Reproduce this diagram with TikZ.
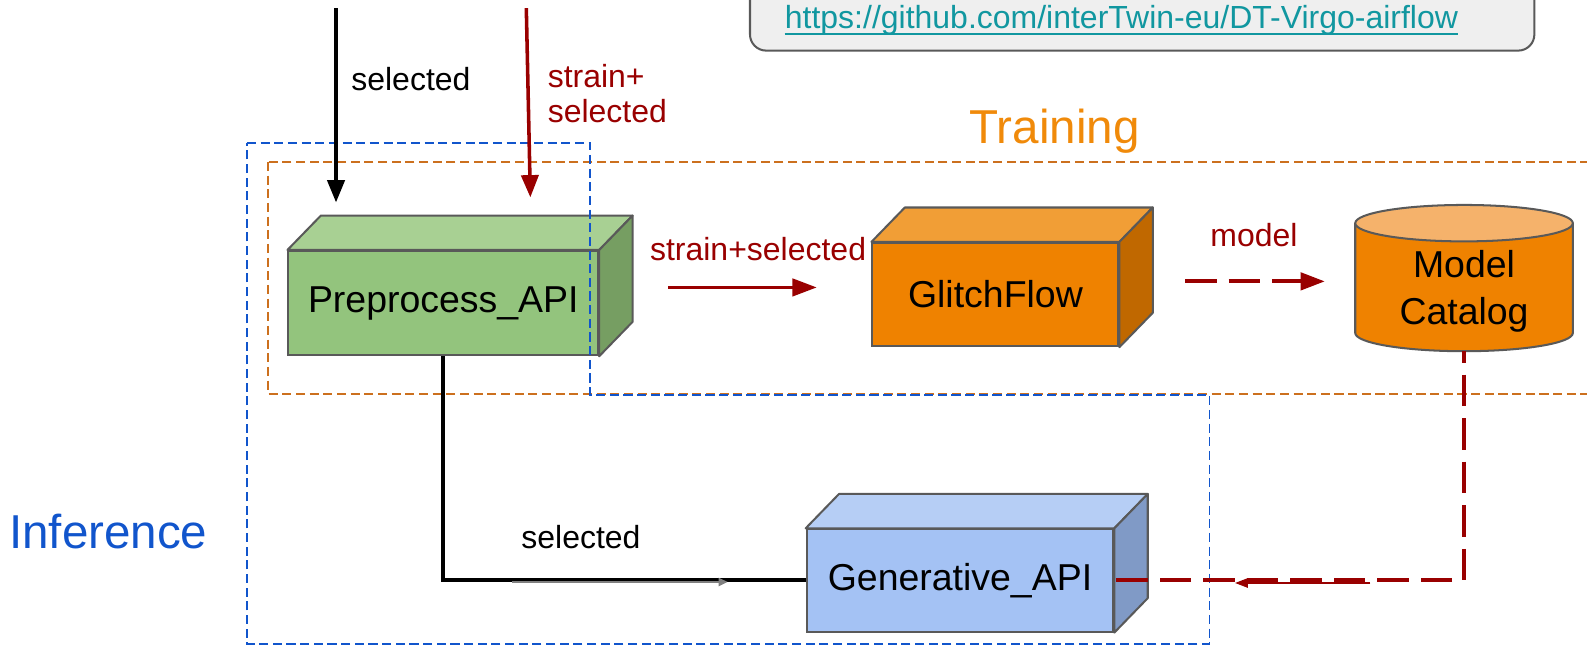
\documentclass[tikz,border=0pt]{standalone}
\usepackage{fontspec}
\setmainfont{Liberation Sans}
\usetikzlibrary{arrows.meta,calc}

\definecolor{dred}{RGB}{153,0,0}
\definecolor{edgegray}{RGB}{89,89,89}
\definecolor{linkteal}{RGB}{17,151,160}
\definecolor{linkfill}{RGB}{239,239,239}
\definecolor{trainorange}{RGB}{240,138,10}
\definecolor{trainedge}{RGB}{204,112,30}
\definecolor{inferblue}{RGB}{17,85,204}
\definecolor{greenfront}{RGB}{147,196,125}
\definecolor{greentop}{RGB}{168,208,147}
\definecolor{greenside}{RGB}{118,158,98}
\definecolor{orangefront}{RGB}{239,130,0}
\definecolor{orangetop}{RGB}{241,158,54}
\definecolor{orangeside}{RGB}{192,104,0}
\definecolor{cyltop}{RGB}{245,178,107}
\definecolor{bluefront}{RGB}{164,194,244}
\definecolor{bluetop}{RGB}{182,206,245}
\definecolor{blueside}{RGB}{128,154,198}

\tikzset{
  lbl/.style={font=\fontsize{31.6}{35}\selectfont, inner sep=0pt},
  boxlbl/.style={font=\fontsize{37}{44}\selectfont},
  biglbl/.style={font=\fontsize{47}{54}\selectfont, inner sep=0pt},
  cube/.style={draw=edgegray, line width=2pt, inner sep=0pt},
  faceline/.style={draw=edgegray, line width=2pt, line join=round},
  region/.style={line width=1.8pt, dash pattern=on 9pt off 4.5pt},
  flow/.style={line width=3.5pt},
  redhead/.style={-{Triangle[length=24pt,width=17pt]}},
}

% top and side faces of a box whose front face is the node #1
\newcommand\cubefaces[3]{%
  \path[faceline, fill=#2] (#1.north west) -- ++(33,-34)
    -- ($(#1.north east)+(33,-34)$) -- (#1.north east) -- cycle;
  \path[faceline, fill=#3] (#1.north east) -- ++(33,-34)
    -- ($(#1.south east)+(33,-34)$) -- (#1.south east) -- cycle;
}

\begin{document}
\begin{tikzpicture}[x=1pt,y=-1pt]
\useasboundingbox (0,0) rectangle (1568,640);
\clip (0,0) rectangle (1568,640);

% repository link
\draw[draw=edgegray, fill=linkfill, line width=2pt, rounded corners=16pt]
  (741,-30) rectangle (1516,50);
\node[lbl, text=linkteal] (link) at (1108,20)
  {https://github.com/interTwin-eu/DT-Virgo-airflow};
\draw[linkteal, line width=2pt]
  ([yshift=-5.5pt]link.base west) -- ([yshift=-5.5pt]link.base east);

% processing stages
\node[cube, fill=greenfront, minimum width=306pt, minimum height=103pt, boxlbl]
  (pre) at (438,299.5) {Preprocess\_API};
\cubefaces{pre}{greentop}{greenside}

\node[cube, fill=orangefront, minimum width=243pt, minimum height=102pt, boxlbl]
  (glitch) at (983.5,291) {GlitchFlow};
\cubefaces{glitch}{orangetop}{orangeside}

\node[cube, fill=bluefront, minimum width=303pt, minimum height=101pt, boxlbl]
  (gen) at (948.5,573.5) {Generative\_API};
\cubefaces{gen}{bluetop}{blueside}

% model catalog cylinder
\node[inner sep=0pt, minimum width=215pt, minimum height=144pt] (cat) at (1446.5,275) {};
\path[faceline, fill=orangefront] (1339,220.5) -- (1339,329)
  arc[start angle=180, end angle=360, x radius=107.5pt, y radius=18pt]
  -- (1554,220.5) -- cycle;
\path[faceline, fill=cyltop] (1446.5,220.5) ellipse [x radius=107.5pt, y radius=18pt];
\node[align=center, inner sep=0pt, font=\fontsize{37}{47}\selectfont]
  (catlbl) at (1446.5,288) {Model\\Catalog};

% training and inference regions
\draw[region, trainedge] (265,160) rectangle (1600,389);
\draw[region, inferblue] (244,141) -- (583,141) -- (583,390) -- (1195,390)
  -- (1195,636) -- (244,636) -- cycle;
\node[biglbl, text=trainorange] (train) at (1042,130) {Training};
\node[biglbl, text=inferblue] (infer) at (107,525) {Inference};

% inputs from above
\coordinate (selsrc) at (332,8);
\coordinate (seldst) at (332,200);
\coordinate (strsrc) at (520,8);
\coordinate (strdst) at (524,195);
\draw[line width=3.5pt, -{Triangle[length=22pt,width=17pt]}] (selsrc) -- (seldst);
\draw[line width=3.5pt, dred, -{Triangle[length=22pt,width=17pt]}] (strsrc) -- (strdst);
\node[lbl] (sellbl) at (406,78) {selected};
\node[lbl, text=dred, align=left, anchor=west] (strlbl) at (541,92.5)
  {strain+\\selected};

% preprocess -> glitchflow
\coordinate (psrc) at (660,284);
\coordinate (pdst) at (807,284);
\draw[flow, dred, redhead] (psrc) -- (pdst);
\node[lbl, text=dred] (plbl) at (749,246) {strain+selected};

% glitchflow -> catalog
\coordinate (msrc) at (1171,278);
\coordinate (mdst) at (1309,278);
\draw[line width=4pt, dred, dash pattern=on 31pt off 12pt, redhead] (msrc) -- (mdst);
\node[lbl, text=dred] (mlbl) at (1239,232) {model};

% preprocess -> generative
\draw[line width=4pt] (pre.south) |- (gen.west);
\coordinate (gsrc) at (506,575);
\coordinate (gdst) at (719,575);
\draw[line width=2pt, gray, -{Triangle[length=9pt,width=8pt]}] (gsrc) -- (gdst);
\node[lbl] (glbl) at (574,531) {selected};

% catalog -> generative
\draw[line width=4pt, dred, dash pattern=on 31pt off 12pt, dash phase=20pt]
  (cat.south) |- (gen.east);
\coordinate (csrc) at (1354,576);
\coordinate (cdst) at (1220,576);
\draw[line width=2.5pt, dred, -{Triangle[length=13pt,width=9pt]}] (csrc) -- (cdst);
\end{tikzpicture}
\end{document}
